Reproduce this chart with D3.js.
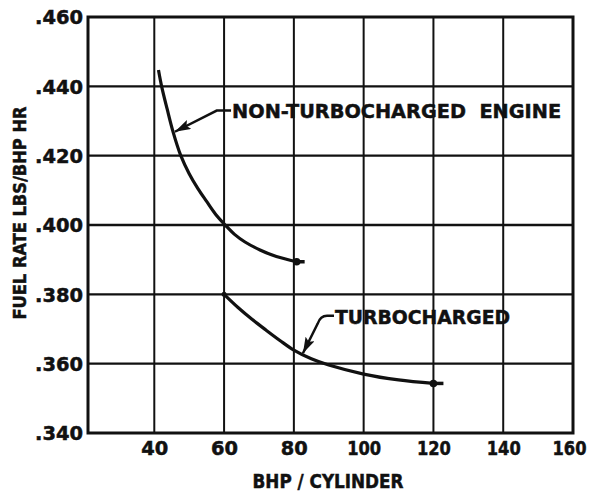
<!DOCTYPE html>
<html><head><meta charset="utf-8">
<script src="https://cdn.jsdelivr.net/npm/d3@7"></script>
<style>
html,body{margin:0;padding:0;background:#fff;}
text{font-family:"DejaVu Sans",sans-serif;font-weight:bold;fill:#111;stroke:#111;stroke-width:0.5px;}
</style></head>
<body><svg id="c" width="591" height="494"></svg>
<script>
// Data
const xTicks = [40, 60, 80, 100, 120, 140, 160];
const yTicks = [0.340, 0.360, 0.380, 0.400, 0.420, 0.440, 0.460];
const nonTurboX = [41.2, 42.1, 43.7, 45.4, 47.6, 50, 52.5, 55, 57.5, 60.6, 63, 66, 70.3, 75, 80.8];
const nonTurboY = [0.4447, 0.4400, 0.4334, 0.4268, 0.4200, 0.4148, 0.4105, 0.4068, 0.4032, 0.3997, 0.3973, 0.3951, 0.3928, 0.3909, 0.3894];
const turboX = [60, 64, 68, 72, 76, 80, 85, 90, 100, 110, 120];
const turboY = [0.380, 0.3762, 0.3728, 0.3697, 0.3667, 0.3639, 0.3614, 0.3596, 0.3570, 0.3553, 0.3543];
const labels = ["NON-TURBOCHARGED  ENGINE", "TURBOCHARGED"];
const xTitle = "BHP / CYLINDER";
const yTitle = "FUEL RATE LBS/BHP HR";

const svg = d3.select("#c");
const x = d3.scaleLinear().domain([21, 160]).range([88, 573]);
const y = d3.scaleLinear().domain([0.340, 0.460]).range([433, 17]);
const ink = "#111";

// grid
const g = svg.append("g");
g.selectAll(".vg").data(xTicks.filter(d => d < 160)).enter().append("line")
  .attr("x1", d => x(d)).attr("x2", d => x(d)).attr("y1", y(0.460)).attr("y2", y(0.340))
  .attr("stroke", ink).attr("stroke-width", 2);
g.selectAll(".hg").data(yTicks.filter(d => d > 0.340 && d < 0.460)).enter().append("line")
  .attr("y1", d => y(d)).attr("y2", d => y(d)).attr("x1", x(21)).attr("x2", x(160))
  .attr("stroke", ink).attr("stroke-width", 2.4);
g.append("rect").attr("x", x(21)).attr("y", y(0.460))
  .attr("width", x(160) - x(21)).attr("height", y(0.340) - y(0.460))
  .attr("fill", "none").attr("stroke", ink).attr("stroke-width", 3);

// axes labels via d3 axes
const fmt = d => d3.format(".3f")(d).replace(/^0/, "");
const ya = svg.append("g").attr("transform", `translate(${x(21)},0)`)
  .call(d3.axisLeft(y).tickValues(yTicks).tickFormat(fmt).tickSize(0).tickPadding(5));
ya.select(".domain").remove();
ya.selectAll("text").style("font-size", "19px").style("font-family", "DejaVu Sans").style("font-weight", "bold")
  .attr("fill", ink).attr("dy", "0.36em").attr("textLength", 48).attr("lengthAdjust", "spacingAndGlyphs");
const xa = svg.append("g").attr("transform", `translate(0,${y(0.340)})`)
  .call(d3.axisBottom(x).tickValues(xTicks).tickSize(0).tickPadding(9));
xa.select(".domain").remove();
xa.selectAll("text").style("font-size", "19px").style("font-family", "DejaVu Sans").style("font-weight", "bold").attr("fill", ink)
  .attr("textLength", d => d >= 100 ? 34 : 27).attr("lengthAdjust", "spacingAndGlyphs")
  .attr("dx", d => d === 160 ? -4 : 0);

svg.append("text").attr("x", 328).attr("y", 488).attr("text-anchor", "middle")
  .attr("textLength", 151).attr("lengthAdjust", "spacingAndGlyphs")
  .style("font-size", "19px").text(xTitle);
svg.append("text").attr("transform", "translate(26,213) rotate(-90)").attr("text-anchor", "middle")
  .attr("textLength", 213).attr("lengthAdjust", "spacingAndGlyphs")
  .style("font-size", "17px").text(yTitle);

// curves
const line = d3.line().x(d => x(d[0])).y(d => y(d[1])).curve(d3.curveCatmullRom.alpha(0.5));
const nt = nonTurboX.map((d, i) => [d, nonTurboY[i]]);
const tc = turboX.map((d, i) => [d, turboY[i]]);
svg.append("path").attr("d", line(nt)).attr("fill", "none").attr("stroke", ink).attr("stroke-width", 3.2);
svg.append("path").attr("d", line(tc)).attr("fill", "none").attr("stroke", ink).attr("stroke-width", 3.2);
// end tails and dots
const ntEnd = nt[nt.length - 1], tcEnd = tc[tc.length - 1];
svg.append("line").attr("x1", x(ntEnd[0])).attr("x2", x(ntEnd[0]) + 8).attr("y1", y(ntEnd[1])).attr("y2", y(ntEnd[1])).attr("stroke", ink).attr("stroke-width", 3.5);
svg.append("line").attr("x1", x(tcEnd[0])).attr("x2", x(tcEnd[0]) + 10).attr("y1", y(tcEnd[1])).attr("y2", y(tcEnd[1])).attr("stroke", ink).attr("stroke-width", 3.5);
[ntEnd, tcEnd, tc[0]].forEach((p, i) => {
  svg.append("circle").attr("cx", x(p[0])).attr("cy", y(p[1])).attr("r", i === 2 ? 2.5 : 3.8).attr("fill", ink);
});

// arrow marker
svg.append("defs").append("marker").attr("id", "ah").attr("viewBox", "0 0 16 10")
  .attr("refX", 16).attr("refY", 5).attr("markerWidth", 16).attr("markerHeight", 10)
  .attr("markerUnits", "userSpaceOnUse").attr("orient", "auto")
  .append("path").attr("d", "M0,0 L16,5 L0,10 L3,5 Z").attr("fill", ink);

// annotation 1
svg.append("path")
  .attr("d", `M${x(62)},${y(0.4330)} L${x(57.9)},${y(0.4330)} L${x(45.9)},${y(0.4269)}`)
  .attr("fill", "none").attr("stroke", ink).attr("stroke-width", 2.5).attr("marker-end", "url(#ah)");
svg.append("text").attr("x", x(62.3)).attr("y", y(0.4330) + 7.5)
  .attr("textLength", 329).attr("lengthAdjust", "spacingAndGlyphs")
  .style("font-size", "20px").style("white-space", "pre").text(labels[0]);

// annotation 2
svg.append("path")
  .attr("d", `M${x(91.5)},${y(0.3738)} L${x(89.5)},${y(0.3738)} Q${x(87.6)},${y(0.3738)} ${x(86.8)},${y(0.3715)} L${x(82.6)},${y(0.3630)}`)
  .attr("fill", "none").attr("stroke", ink).attr("stroke-width", 2.5).attr("marker-end", "url(#ah)");
svg.append("text").attr("x", x(91.8)).attr("y", y(0.3738) + 8)
  .attr("textLength", 175).attr("lengthAdjust", "spacingAndGlyphs")
  .style("font-size", "20px").text(labels[1]);
</script></body></html>
